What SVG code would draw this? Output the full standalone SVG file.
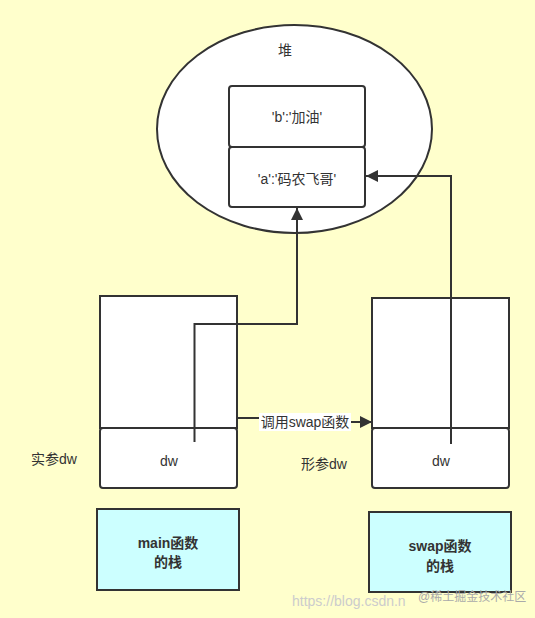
<svg xmlns="http://www.w3.org/2000/svg" width="535" height="618" viewBox="0 0 535 618">
<style>
text{font-family:"Liberation Sans","Noto Sans CJK SC",sans-serif;font-size:14px;fill:#333;text-anchor:middle;dominant-baseline:central}
.box{fill:#fff;stroke:#333;stroke-width:2}
.stk{fill:#ccffff;stroke:#333;stroke-width:2}
.b{font-weight:bold}
.ln{fill:none;stroke:#333;stroke-width:2}
.wm{fill:#ccc;font-size:14px;text-anchor:start}
</style>
<defs>
<marker id="ah" viewBox="0 0 10 10" refX="10" refY="5" markerWidth="6" markerHeight="6" orient="auto" markerUnits="strokeWidth">
<path d="M0,0 L10,5 L0,10 z" fill="#333"/>
</marker>
</defs>
<rect width="535" height="618" fill="#ffffcc"/>
<g id="heap">
<ellipse cx="294.5" cy="129" rx="137.5" ry="104" fill="#fff" stroke="#333" stroke-width="2"/>
<text x="285" y="50">堆</text>
</g>
<g id="box-b">
<rect class="box" x="229" y="86" width="136" height="61" rx="3"/>
<text x="297" y="117">'b':'加油'</text>
</g>
<g id="box-a">
<rect class="box" x="229" y="147" width="136" height="60" rx="3"/>
<text x="297" y="179">'a':'码农飞哥'</text>
</g>
<g id="main-frame">
<rect class="box" x="100" y="296" width="137" height="132"/>
<rect class="box" x="100" y="428" width="137" height="60" rx="3"/>
<text x="169" y="461">dw</text>
</g>
<g id="swap-frame">
<rect class="box" x="372" y="298" width="137" height="130"/>
<rect class="box" x="372" y="428" width="137" height="60" rx="3"/>
<text x="441" y="461">dw</text>
</g>
<g id="label-shican"><text x="54" y="459">实参dw</text></g>
<g id="label-xingcan"><text x="324" y="464">形参dw</text></g>
<g id="main-stack">
<rect class="stk" x="97" y="509" width="142" height="81"/>
<text class="b" x="168" y="543">main函数</text>
<text class="b" x="168" y="562">的栈</text>
</g>
<g id="swap-stack">
<rect class="stk" x="369" y="512" width="142" height="80"/>
<text class="b" x="440" y="546">swap函数</text>
<text class="b" x="440" y="566">的栈</text>
</g>
<g id="connectors">
<path class="ln" d="M194.5,442 V324 H297 V208" marker-end="url(#ah)"/>
<path class="ln" d="M451,444 V176 H366" marker-end="url(#ah)"/>
<path class="ln" d="M237,418 H300 V422 H372" marker-end="url(#ah)"/>
<rect x="259" y="413" width="92" height="18" fill="#fff"/>
<text x="305" y="422">调用swap函数</text>
</g>
<text class="wm" x="292" y="601">https://blog.csdn.n</text>
<text class="wm" x="418" y="597" style="fill:#aaa;font-size:12px">@稀土掘金技术社区</text>
</svg>
